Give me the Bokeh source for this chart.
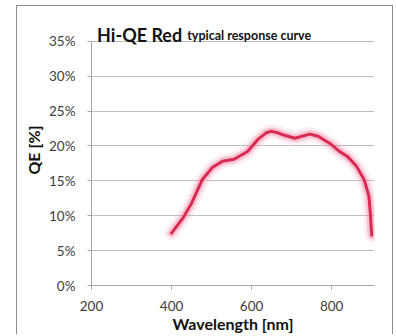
from bokeh.plotting import figure
from bokeh.models import Label, FixedTicker, PrintfTickFormatter, Range1d
from bokeh.embed import file_html
from bokeh.resources import INLINE

# data
wavelength_nm = [400, 430, 451, 477, 502, 527, 556, 590, 615, 637, 649, 665, 678,
                 708, 745, 766, 795, 820, 841, 862, 881, 893, 897, 900]
qe_percent = [7.5, 9.8, 11.9, 15.2, 16.9, 17.8, 18.1, 19.2, 20.9, 21.9, 22.1, 21.9, 21.6,
              21.1, 21.7, 21.4, 20.4, 19.2, 18.4, 17.1, 15.2, 12.8, 10.0, 7.2]
x_ticks = [200, 400, 600, 800]
y_ticks = [0, 5, 10, 15, 20, 25, 30, 35]
title_main = "Hi-QE Red"
title_sub = "typical response curve"

FONT = "Lato"
p = figure(width=377, height=329, output_backend="svg", toolbar_location=None,
           x_range=Range1d(200, 907), y_range=Range1d(0, 38.84),
           min_border_left=74, min_border_right=20, min_border_top=8, min_border_bottom=48)
p.margin = (5, 0, 0, 16)
p.styles = {"border-left": "1px solid #8c8c8c", "border-top": "1px solid #8c8c8c",
            "border-right": "1px solid #8c8c8c"}
p.outline_line_color = None
p.background_fill_color = "white"
p.border_fill_color = "white"

# glow + curve
p.line(wavelength_nm, qe_percent, line_color="#f4a0b8", line_width=14, line_alpha=0.2,
       line_join="round", line_cap="round")
p.line(wavelength_nm, qe_percent, line_color="#ee7898", line_width=8, line_alpha=0.35,
       line_join="round", line_cap="round")
p.line(wavelength_nm, qe_percent, line_color="#d92a52", line_width=3,
       line_join="round", line_cap="round")

p.xaxis.ticker = FixedTicker(ticks=x_ticks)
p.yaxis.ticker = FixedTicker(ticks=y_ticks)
p.yaxis.formatter = PrintfTickFormatter(format="%d%%")
p.yaxis.bounds = (0, 35)
for ax in (p.xaxis[0], p.yaxis[0]):
    ax.axis_line_color = "#a6a6a6"
    ax.major_tick_line_color = "#a6a6a6"
    ax.major_tick_out = 4
    ax.major_tick_in = 0
    ax.minor_tick_line_color = None
    ax.major_label_text_font = FONT
    ax.major_label_text_font_size = "13.5px"
    ax.major_label_text_color = "#404040"
    ax.axis_label_text_font = FONT
    ax.axis_label_text_font_style = "bold"
    ax.axis_label_text_font_size = "16px"
    ax.axis_label_text_color = "#111111"
p.xaxis.major_label_standoff = 11
p.yaxis.major_label_standoff = 12
p.xaxis.axis_label = "Wavelength [nm]"
p.yaxis.axis_label = "QE [%]"
p.xaxis.axis_label_standoff = 0
p.yaxis.axis_label_standoff = 3

p.xgrid.grid_line_color = None
p.ygrid.grid_line_color = "#bfbfbf"
p.ygrid.grid_line_width = 1

p.add_layout(Label(x=214, y=35.85, text=title_main, text_font=FONT, text_font_style="bold",
                   text_baseline="alphabetic", text_font_size="18px", text_color="#111111"))
p.add_layout(Label(x=439, y=35.85, text=title_sub, text_font=FONT, text_font_style="bold",
                   text_baseline="alphabetic", text_font_size="12.5px", text_color="#111111"))

open("out.html", "w").write(file_html(p, INLINE))
